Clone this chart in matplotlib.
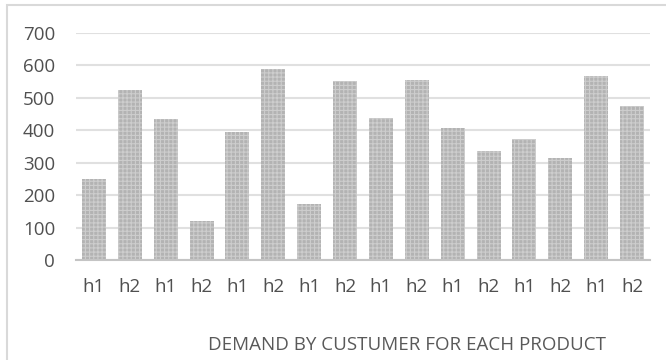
import matplotlib
matplotlib.use("Agg")
import matplotlib.pyplot as plt
from matplotlib.patches import Rectangle

labels = ["h1", "h2"] * 8
demand = [248, 525, 433, 120, 393, 588, 171, 550,
          436, 553, 406, 335, 372, 313, 566, 474]
yticks = [0, 100, 200, 300, 400, 500, 600, 700]

plt.rcParams['font.family'] = ['Open Sans', 'DejaVu Sans']
plt.rcParams['hatch.linewidth'] = 0.8

fig = plt.figure(figsize=(6.66, 3.6), dpi=100)
ax = fig.add_axes([76/666, 100/360, 574/666, 227.3/360])

# chart frame
fig.patches.append(Rectangle((7/666, -0.1), 1.1, (355/360) + 0.1, transform=fig.transFigure,
                             fill=False, edgecolor='#d9d9d9', linewidth=1.5))

x = range(len(demand))
ax.bar(x, demand, width=0.67, facecolor='#b3b3b3', edgecolor='#cdcdcd',
       hatch='++++', linewidth=0, zorder=3)

ax.set_xlim(-0.5, len(demand) - 0.5)
ax.set_ylim(0, 700)
ax.set_yticks(yticks)
ax.set_xticks(list(x))
ax.set_xticklabels(labels)
ax.grid(axis='y', color='#e0e0e0', linewidth=1.5, zorder=0)
for s in ['top', 'right', 'left']:
    ax.spines[s].set_visible(False)
ax.spines['bottom'].set_color('#c4c4c4')
ax.spines['bottom'].set_linewidth(1.5)
ax.spines['bottom'].set_zorder(4)
ax.tick_params(axis='both', length=0, colors='#505050', labelsize=13.5)
ax.tick_params(axis='x', pad=13)
ax.tick_params(axis='y', pad=15)

fig.text(407/666, 15/360, "DEMAND BY CUSTUMER FOR EACH PRODUCT", ha='center', va='center',
         color='#595959', fontsize=13.5)

fig.savefig("out.png", dpi=100)
